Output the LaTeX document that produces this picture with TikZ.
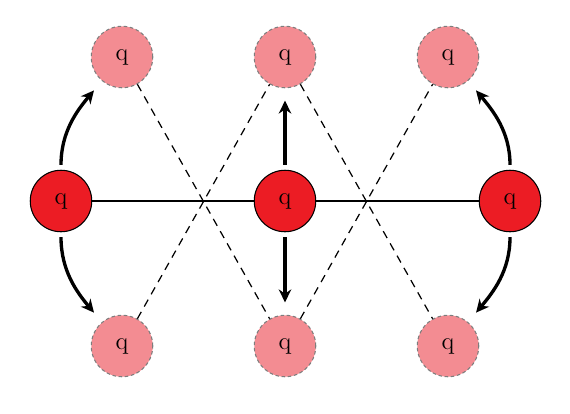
\documentclass[tikz,border=0pt]{standalone}
\usepackage{tikz}
\usetikzlibrary{arrows.meta,positioning}
\definecolor{SiteRed}{RGB}{236,28,36}
\definecolor{SitePink}{RGB}{243,140,146}
\definecolor{RimGray}{RGB}{125,125,125}
\tikzset{
  occ/.style     ={circle, draw=black, line width=.6pt, fill=SiteRed, text=black,
                   minimum size=35pt, inner sep=0pt, font=\fontsize{14}{16}\selectfont},
  vac/.style     ={circle, draw=RimGray, dashed, dash pattern=on 2pt off 1.5pt, line width=.6pt,
                   fill=SitePink, text=black, minimum size=35pt, inner sep=0pt,
                   font=\fontsize{14}{16}\selectfont},
  bond/.style    ={draw=black, line width=.7pt},
  hop/.style     ={draw=black, line width=.7pt, dash pattern=on 4.5pt off 3.5pt},
  jump/.style    ={-{Stealth[length=2.6mm,width=2.5mm]}, draw=black, line width=1.9pt,
                   shorten <=2.8pt, shorten >=7pt},
}
\begin{document}
\begin{tikzpicture}[x=0.02cm,y=-0.02cm]
  \useasboundingbox (0,0) rectangle (570,413);
  % occupied sites
  \node[occ] (l) at (61,201) {q};
  \node[occ] (m) at (285,201) {q};
  \node[occ] (r) at (510,201) {q};
  % vacant sites
  \node[vac] (tl) at (122,57) {q};
  \node[vac] (tm) at (285,57) {q};
  \node[vac] (tr) at (448,57) {q};
  \node[vac] (bl) at (122,346) {q};
  \node[vac] (bm) at (285,346) {q};
  \node[vac] (br) at (448,346) {q};
  \draw[bond] (l) -- (m) -- (r);
  \foreach \a/\b in {tl/bm,bl/tm,tm/br,bm/tr}{\draw[hop] (\a) -- (\b);}
  \draw[jump] (m) -- (tm);
  \draw[jump] (m) -- (bm);
  \draw[jump] (l.north) to[out=90,in=230] (tl);
  \draw[jump] (l.south) to[out=-90,in=130] (bl);
  \draw[jump] (r.north) to[out=90,in=-50] (tr);
  \draw[jump] (r.south) to[out=-90,in=50] (br);
\end{tikzpicture}
\end{document}
